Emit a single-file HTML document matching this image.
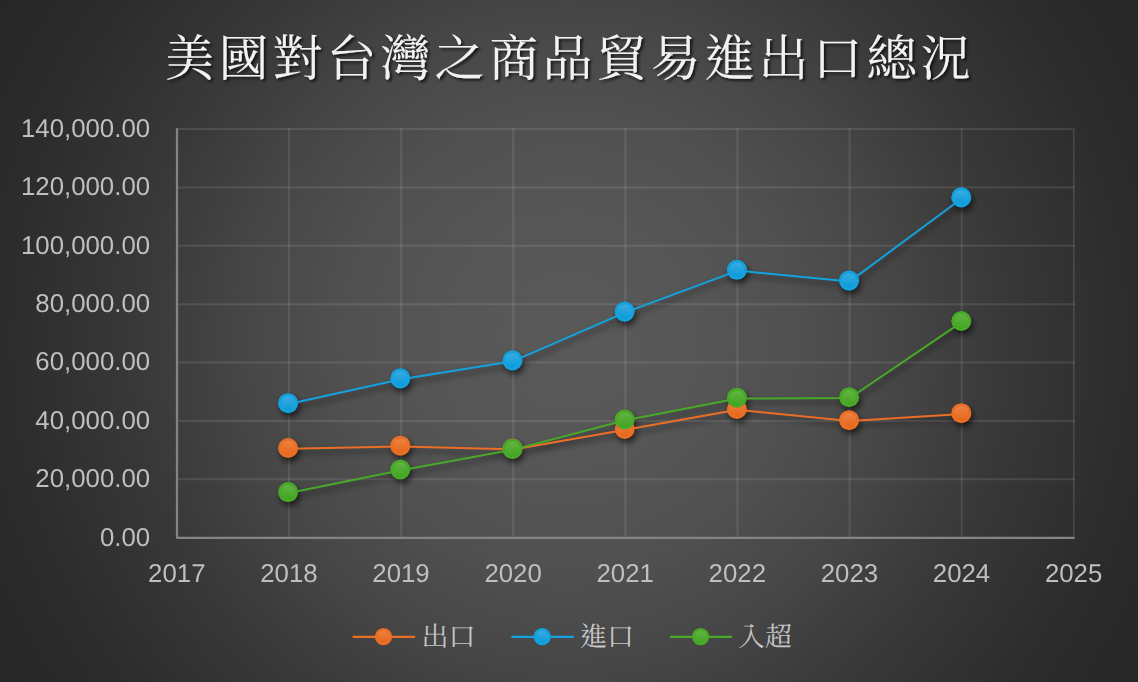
<!DOCTYPE html>
<html lang="zh-Hant"><head><meta charset="utf-8"><title>美國對台灣之商品貿易進出口總況</title>
<style>
html,body{margin:0;padding:0;}
body{width:1138px;height:682px;overflow:hidden;background:#262626;font-family:"Liberation Sans",sans-serif;}
#chart{position:relative;width:1138px;height:682px;overflow:hidden;
background:radial-gradient(circle at 569px 341px,#595959 0px,#585858 60px,#565656 127px,#535353 180px,#505050 233px,#4d4d4d 259px,#494949 300px,#454545 337px,#3e3e3e 390px,#383838 438px,#323232 501px,#2c2c2c 563px,#292929 610px,#272727 656px,#262626 670px);}
svg{position:absolute;left:0;top:0;display:block;}
.t{position:absolute;left:164px;top:28px;width:810px;height:56px;margin:0;font:normal 50px/56px "Liberation Serif",serif;letter-spacing:4px;white-space:nowrap;overflow:hidden;color:transparent;}
.l{position:absolute;top:620px;width:56px;height:32px;font:normal 27px/32px "Liberation Serif",serif;white-space:nowrap;overflow:hidden;color:transparent;}
text{font-family:"Liberation Sans",sans-serif;font-size:25.8px;fill:#bfbfbf;text-rendering:geometricPrecision;}
</style></head><body>
<div id="chart">
<svg width="1138" height="682" viewBox="0 0 1138 682" role="img" aria-label="美國對台灣之商品貿易進出口總況">
<defs>
<filter id="sh" x="-20%" y="-20%" width="140%" height="140%" filterUnits="userSpaceOnUse" primitiveUnits="userSpaceOnUse"><feGaussianBlur in="SourceAlpha" stdDeviation="3.2"/><feOffset dx="1.5" dy="3.5"/><feComponentTransfer><feFuncA type="linear" slope="0.62"/></feComponentTransfer><feMerge><feMergeNode/><feMergeNode in="SourceGraphic"/></feMerge></filter>
<filter id="shonly" x="0" y="0" width="1138" height="682" filterUnits="userSpaceOnUse"><feGaussianBlur in="SourceAlpha" stdDeviation="3.2"/><feOffset dx="1.5" dy="3.5"/><feComponentTransfer><feFuncA type="linear" slope="0.62"/></feComponentTransfer></filter>
<filter id="tsh" x="-5%" y="-30%" width="110%" height="160%"><feGaussianBlur in="SourceAlpha" stdDeviation="1.6"/><feOffset dx="1.6" dy="1.8"/><feComponentTransfer><feFuncA type="linear" slope="0.75"/></feComponentTransfer><feMerge><feMergeNode/><feMergeNode in="SourceGraphic"/></feMerge></filter>
<linearGradient id="go" x1="0" y1="0" x2="0" y2="1"><stop offset="0" stop-color="#ee8244"/><stop offset="1" stop-color="#e6661a"/></linearGradient>
<linearGradient id="gb" x1="0" y1="0" x2="0" y2="1"><stop offset="0" stop-color="#3aaae2"/><stop offset="1" stop-color="#0a9bd8"/></linearGradient>
<linearGradient id="gg" x1="0" y1="0" x2="0" y2="1"><stop offset="0" stop-color="#62b445"/><stop offset="1" stop-color="#43a520"/></linearGradient>
</defs>
<g stroke="#ffffff" stroke-opacity="0.10" stroke-width="2" fill="none">
<line x1="177.0" y1="129.00" x2="1072.8" y2="129.00"/>
<line x1="177.0" y1="187.39" x2="1074.8" y2="187.39"/>
<line x1="177.0" y1="245.77" x2="1074.8" y2="245.77"/>
<line x1="177.0" y1="304.16" x2="1074.8" y2="304.16"/>
<line x1="177.0" y1="362.54" x2="1074.8" y2="362.54"/>
<line x1="177.0" y1="420.93" x2="1074.8" y2="420.93"/>
<line x1="177.0" y1="479.31" x2="1074.8" y2="479.31"/>
<line x1="289.10" y1="128.0" x2="289.10" y2="537.7"/>
<line x1="401.20" y1="128.0" x2="401.20" y2="537.7"/>
<line x1="513.30" y1="128.0" x2="513.30" y2="537.7"/>
<line x1="625.40" y1="128.0" x2="625.40" y2="537.7"/>
<line x1="737.50" y1="128.0" x2="737.50" y2="537.7"/>
<line x1="849.60" y1="128.0" x2="849.60" y2="537.7"/>
<line x1="961.70" y1="128.0" x2="961.70" y2="537.7"/>
<line x1="1073.80" y1="128.0" x2="1073.80" y2="537.7"/>
</g>
<path d="M177.0 129.0L177.0 537.8L1073.8 537.8" stroke="#848484" stroke-width="2.25" stroke-linecap="round" stroke-linejoin="round" fill="none"/>
<g text-anchor="end" opacity="0.999">
<text x="150.1" y="136.9">140,000.00</text>
<text x="150.1" y="195.3">120,000.00</text>
<text x="150.1" y="253.7">100,000.00</text>
<text x="150.1" y="312.1">80,000.00</text>
<text x="150.1" y="370.4">60,000.00</text>
<text x="150.1" y="428.8">40,000.00</text>
<text x="150.1" y="487.2">20,000.00</text>
<text x="150.1" y="545.6">0.00</text>
</g>
<g text-anchor="middle" opacity="0.999">
<text x="176.8" y="582.1">2017</text>
<text x="288.9" y="582.1">2018</text>
<text x="401.0" y="582.1">2019</text>
<text x="513.1" y="582.1">2020</text>
<text x="625.2" y="582.1">2021</text>
<text x="737.3" y="582.1">2022</text>
<text x="849.4" y="582.1">2023</text>
<text x="961.5" y="582.1">2024</text>
<text x="1073.6" y="582.1">2025</text>
</g>
<g filter="url(#shonly)">
<polyline fill="none" stroke="#000" stroke-width="2.0" stroke-linejoin="round" stroke-linecap="round" points="288.8,448.8 401.0,446.5 513.2,449.4 625.4,429.8 737.6,409.8 849.8,421.0 962.0,414.0"/>
<circle cx="288.1" cy="448.0" r="10.05" fill="#000"/>
<circle cx="400.3" cy="445.7" r="10.05" fill="#000"/>
<circle cx="512.5" cy="448.6" r="10.05" fill="#000"/>
<circle cx="624.7" cy="429.0" r="10.05" fill="#000"/>
<circle cx="736.9" cy="409.0" r="10.05" fill="#000"/>
<circle cx="849.1" cy="420.2" r="10.05" fill="#000"/>
<circle cx="961.3" cy="413.2" r="10.05" fill="#000"/>
<polyline fill="none" stroke="#000" stroke-width="2.0" stroke-linejoin="round" stroke-linecap="round" points="288.8,404.0 401.0,379.2 513.2,361.2 625.4,312.4 737.6,270.6 849.8,281.4 962.0,198.2"/>
<circle cx="288.1" cy="403.2" r="10.05" fill="#000"/>
<circle cx="400.3" cy="378.4" r="10.05" fill="#000"/>
<circle cx="512.5" cy="360.4" r="10.05" fill="#000"/>
<circle cx="624.7" cy="311.6" r="10.05" fill="#000"/>
<circle cx="736.9" cy="269.8" r="10.05" fill="#000"/>
<circle cx="849.1" cy="280.6" r="10.05" fill="#000"/>
<circle cx="961.3" cy="197.4" r="10.05" fill="#000"/>
<polyline fill="none" stroke="#000" stroke-width="2.0" stroke-linejoin="round" stroke-linecap="round" points="288.8,492.9 401.0,470.3 513.2,449.6 625.4,420.3 737.6,398.5 849.8,398.0 962.0,321.8"/>
<circle cx="288.1" cy="492.1" r="10.05" fill="#000"/>
<circle cx="400.3" cy="469.5" r="10.05" fill="#000"/>
<circle cx="512.5" cy="448.8" r="10.05" fill="#000"/>
<circle cx="624.7" cy="419.5" r="10.05" fill="#000"/>
<circle cx="736.9" cy="397.7" r="10.05" fill="#000"/>
<circle cx="849.1" cy="397.2" r="10.05" fill="#000"/>
<circle cx="961.3" cy="321.0" r="10.05" fill="#000"/>
</g>
<g>
<polyline fill="none" stroke="#ea6f25" stroke-width="2.0" stroke-linejoin="round" stroke-linecap="round" points="288.8,448.8 401.0,446.5 513.2,449.4 625.4,429.8 737.6,409.8 849.8,421.0 962.0,414.0"/>
<circle cx="288.1" cy="448.0" r="10.05" fill="#ea6f25"/>
<circle cx="288.1" cy="448.0" r="7.2" fill="url(#go)"/>
<circle cx="400.3" cy="445.7" r="10.05" fill="#ea6f25"/>
<circle cx="400.3" cy="445.7" r="7.2" fill="url(#go)"/>
<circle cx="512.5" cy="448.6" r="10.05" fill="#ea6f25"/>
<circle cx="512.5" cy="448.6" r="7.2" fill="url(#go)"/>
<circle cx="624.7" cy="429.0" r="10.05" fill="#ea6f25"/>
<circle cx="624.7" cy="429.0" r="7.2" fill="url(#go)"/>
<circle cx="736.9" cy="409.0" r="10.05" fill="#ea6f25"/>
<circle cx="736.9" cy="409.0" r="7.2" fill="url(#go)"/>
<circle cx="849.1" cy="420.2" r="10.05" fill="#ea6f25"/>
<circle cx="849.1" cy="420.2" r="7.2" fill="url(#go)"/>
<circle cx="961.3" cy="413.2" r="10.05" fill="#ea6f25"/>
<circle cx="961.3" cy="413.2" r="7.2" fill="url(#go)"/>
</g>
<g>
<polyline fill="none" stroke="#14a2de" stroke-width="2.0" stroke-linejoin="round" stroke-linecap="round" points="288.8,404.0 401.0,379.2 513.2,361.2 625.4,312.4 737.6,270.6 849.8,281.4 962.0,198.2"/>
<circle cx="288.1" cy="403.2" r="10.05" fill="#14a2de"/>
<circle cx="288.1" cy="403.2" r="7.2" fill="url(#gb)"/>
<circle cx="400.3" cy="378.4" r="10.05" fill="#14a2de"/>
<circle cx="400.3" cy="378.4" r="7.2" fill="url(#gb)"/>
<circle cx="512.5" cy="360.4" r="10.05" fill="#14a2de"/>
<circle cx="512.5" cy="360.4" r="7.2" fill="url(#gb)"/>
<circle cx="624.7" cy="311.6" r="10.05" fill="#14a2de"/>
<circle cx="624.7" cy="311.6" r="7.2" fill="url(#gb)"/>
<circle cx="736.9" cy="269.8" r="10.05" fill="#14a2de"/>
<circle cx="736.9" cy="269.8" r="7.2" fill="url(#gb)"/>
<circle cx="849.1" cy="280.6" r="10.05" fill="#14a2de"/>
<circle cx="849.1" cy="280.6" r="7.2" fill="url(#gb)"/>
<circle cx="961.3" cy="197.4" r="10.05" fill="#14a2de"/>
<circle cx="961.3" cy="197.4" r="7.2" fill="url(#gb)"/>
</g>
<g>
<polyline fill="none" stroke="#48a928" stroke-width="2.0" stroke-linejoin="round" stroke-linecap="round" points="288.8,492.9 401.0,470.3 513.2,449.6 625.4,420.3 737.6,398.5 849.8,398.0 962.0,321.8"/>
<circle cx="288.1" cy="492.1" r="10.05" fill="#48a928"/>
<circle cx="288.1" cy="492.1" r="7.2" fill="url(#gg)"/>
<circle cx="400.3" cy="469.5" r="10.05" fill="#48a928"/>
<circle cx="400.3" cy="469.5" r="7.2" fill="url(#gg)"/>
<circle cx="512.5" cy="448.8" r="10.05" fill="#48a928"/>
<circle cx="512.5" cy="448.8" r="7.2" fill="url(#gg)"/>
<circle cx="624.7" cy="419.5" r="10.05" fill="#48a928"/>
<circle cx="624.7" cy="419.5" r="7.2" fill="url(#gg)"/>
<circle cx="736.9" cy="397.7" r="10.05" fill="#48a928"/>
<circle cx="736.9" cy="397.7" r="7.2" fill="url(#gg)"/>
<circle cx="849.1" cy="397.2" r="10.05" fill="#48a928"/>
<circle cx="849.1" cy="397.2" r="7.2" fill="url(#gg)"/>
<circle cx="961.3" cy="321.0" r="10.05" fill="#48a928"/>
<circle cx="961.3" cy="321.0" r="7.2" fill="url(#gg)"/>
</g>
<g filter="url(#tsh)">
<text x="164.5" y="75.5" style="font-family:'Liberation Serif','Noto Serif CJK SC',serif;font-size:50px;letter-spacing:4px;fill:#f2f2f2;">美國對台灣之商品貿易進出口總況</text>
</g>
<line x1="352.6" y1="636.8" x2="415.1" y2="636.8" stroke="#ea6f25" stroke-width="2.3"/>
<circle cx="383.5" cy="636.7" r="8.65" fill="#ea6f25"/>
<circle cx="383.5" cy="636.7" r="6.1" fill="url(#go)"/>
<line x1="511.4" y1="636.8" x2="573.9" y2="636.8" stroke="#14a2de" stroke-width="2.3"/>
<circle cx="542.2" cy="636.7" r="8.65" fill="#14a2de"/>
<circle cx="542.2" cy="636.7" r="6.1" fill="url(#gb)"/>
<line x1="670.0" y1="636.8" x2="732.1" y2="636.8" stroke="#48a928" stroke-width="2.3"/>
<circle cx="700.6" cy="636.7" r="8.65" fill="#48a928"/>
<circle cx="700.6" cy="636.7" r="6.1" fill="url(#gg)"/>
<g>
<text x="421.5" y="646" style="font-family:'Liberation Serif','Noto Serif CJK SC',serif;font-size:27px;fill:#c6c6c6;">出口</text>
<text x="580" y="646" style="font-family:'Liberation Serif','Noto Serif CJK SC',serif;font-size:27px;fill:#c6c6c6;">進口</text>
<text x="738" y="646" style="font-family:'Liberation Serif','Noto Serif CJK SC',serif;font-size:27px;fill:#c6c6c6;">入超</text>
</g>
</svg>
<h1 class="t">美國對台灣之商品貿易進出口總況</h1>
<span class="l" style="left:422px">出口</span><span class="l" style="left:580px">進口</span><span class="l" style="left:738px">入超</span>
</div>
</body></html>
